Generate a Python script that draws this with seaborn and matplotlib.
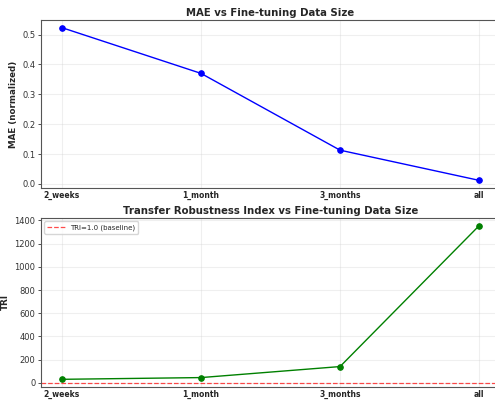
import numpy as np
import pandas as pd
import seaborn as sns
import matplotlib
matplotlib.use("Agg")
import matplotlib.pyplot as plt

# data
sizes = ["2_weeks", "1_month", "3_months", "all"]
mae_values = [0.523, 0.370, 0.113, 0.012]
tri_values = [30, 45, 140, 1355]

df = pd.DataFrame({"size": sizes, "MAE": mae_values, "TRI": tri_values})
df["pos"] = np.arange(len(sizes))

sns.set_style("whitegrid")
plt.rcParams["font.family"] = ["DejaVu Sans"]
plt.rcParams["axes.edgecolor"] = "#555555"
plt.rcParams["xtick.bottom"] = True
plt.rcParams["ytick.left"] = True

fig = plt.figure(figsize=(4.95, 4.01), dpi=100)
W, H = 495, 401
ax1 = fig.add_axes([41 / W, 1 - 188 / H, 459 / W, 168 / H])
ax2 = fig.add_axes([41 / W, 1 - 387 / H, 459 / W, 169 / H])

# 1. MAE
sns.lineplot(data=df, x="pos", y="MAE", ax=ax1, color="blue", marker="o",
             markersize=4, markeredgecolor="blue", linewidth=1)
ax1.set_title("MAE vs Fine-tuning Data Size", fontsize=7.3, fontweight="bold", pad=3)
ax1.set_ylabel("MAE (normalized)", fontsize=6.3, fontweight="bold")
ax1.yaxis.set_label_coords(-0.05, 0.5)
ax1.set_xlabel("")
ax1.set_yticks([0.0, 0.1, 0.2, 0.3, 0.4, 0.5])

# 2. TRI
sns.lineplot(data=df, x="pos", y="TRI", ax=ax2, color="green", marker="o",
             markersize=4, markeredgecolor="green", linewidth=1)
ax2.axhline(1.0, color="red", linestyle="--", linewidth=0.9, alpha=0.7,
            label="TRI=1.0 (baseline)")
ax2.set_title("Transfer Robustness Index vs Fine-tuning Data Size", fontsize=7.3,
              fontweight="bold", pad=3)
ax2.set_ylabel("TRI", fontsize=6.3, fontweight="bold")
ax2.yaxis.set_label_coords(-0.068, 0.5)
ax2.set_xlabel("")
ax2.set_yticks(np.arange(0, 1401, 200))
ax2.legend(loc="upper left", fontsize=5, handlelength=2.5)

for ax in (ax1, ax2):
    ax.set_xticks(df["pos"])
    ax.set_xticklabels(sizes, fontsize=5.5, fontweight="bold")
    ax.tick_params(axis="y", labelsize=6, length=2.5, width=0.6, pad=1.5, colors="#333333")
    ax.tick_params(axis="x", length=0, pad=2)
    ax.grid(True, alpha=0.3)
    for s in ax.spines.values():
        s.set_linewidth(0.8)

fig.savefig("out.png", dpi=100)
